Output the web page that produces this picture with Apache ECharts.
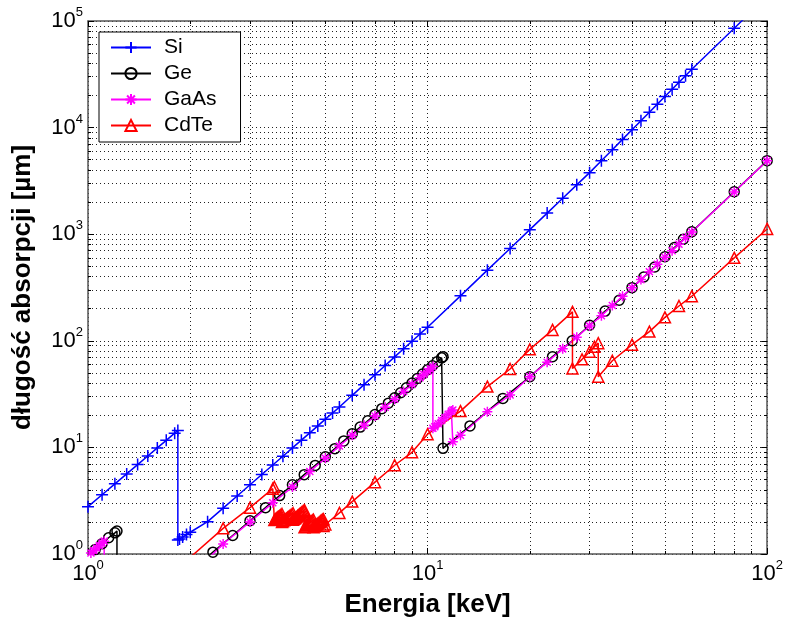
<!DOCTYPE html>
<html>
<head>
<meta charset="utf-8">
<title>długość absorpcji</title>
<script src="https://cdn.jsdelivr.net/npm/echarts@6/dist/echarts.min.js"></script>
<style>
  html, body { margin: 0; padding: 0; background: #fff; }
  #chart { width: 786px; height: 628px; }
</style>
</head>
<body>
<div id="chart"></div>
<script>
// energie [keV] i długości absorpcji [um]
const siE = [1.0, 1.1, 1.2, 1.3, 1.4, 1.5, 1.6, 1.7, 1.8, 1.839,
  1.839, 1.86, 1.9, 1.95, 2.0,
  2.25, 2.5, 2.75, 3.0, 3.25, 3.5, 3.75, 4.0, 4.25, 4.5, 4.75, 5.0, 5.25,
  5.5, 6.0, 6.5, 7.0, 7.5, 8.0, 8.5, 9.0, 9.5, 10,
  12.5, 15, 17.5, 20, 22.5, 25, 27.5, 30, 32.5, 35, 37.5, 40, 42.5, 45, 47.5, 50, 52.5, 55, 57.5, 60, 80, 100];
const siL = [2.78, 3.60, 4.55, 5.64, 6.90, 8.31, 9.89, 11.65, 13.6, 14.4,
  1.35, 1.38, 1.44, 1.52, 1.60,
  2.01, 2.69, 3.50, 4.46, 5.57, 6.84, 8.27, 9.89, 11.7, 13.7, 15.9, 18.4, 21.0,
  23.9, 30.8, 38.8, 48.1, 58.6, 70.6, 84.1, 99.1, 116, 134,
  264, 460, 734, 1103, 1577, 2172, 2903, 3780, 4892, 6210, 7753, 9545, 11600, 13950, 16600, 19580, 22910, 26610, 30710, 35220, 85600, 170000];

const geE = [1.0, 1.05, 1.1, 1.15, 1.2, 1.217,
  1.217, 1.333, 1.667, 2.0,
  2.333, 2.667, 3.0, 3.333, 3.667, 4.0, 4.333, 4.667, 5.0, 5.333, 5.667, 6.0, 6.333, 6.667, 7.0,
  7.333, 7.667, 8.0, 8.333, 8.667, 9.0, 9.333, 9.667, 10.0, 10.333, 10.667, 11.0, 11.103,
  11.103, 13.333, 16.667, 20, 23.333, 26.667, 30, 33.333, 36.667, 40, 43.333, 46.667, 50, 53.333, 56.667, 60, 80, 100];
const geL = [0.98, 1.1, 1.25, 1.42, 1.58, 1.64,
  0.3, 0.32, 0.46, 0.68,
  1.04, 1.49, 2.05, 2.72, 3.53, 4.46, 5.55, 6.78, 8.17, 9.73, 11.5, 13.4, 15.5, 17.8, 20.3,
  23.1, 26.0, 29.2, 32.6, 36.3, 40.2, 44.4, 48.8, 53.5, 58.4, 63.7, 69.2, 71.0,
  9.8, 15.9, 28.8, 46, 71, 100, 140, 190, 240, 315, 397, 492, 615, 750, 897, 1055, 2500, 4900];

const gaasE = [1.0, 1.02, 1.04, 1.06, 1.08, 1.1, 1.116,
  1.116, 1.5, 2.0,
  2.5, 3.0, 3.5, 4.0, 4.5, 5.0, 5.5, 6.0, 6.5, 7.0, 7.5, 8.0, 8.5, 9.0, 9.5, 9.75, 10.0, 10.2, 10.367,
  10.367, 10.5, 10.75, 11.0, 11.25, 11.5, 11.75, 11.867,
  11.867, 12.5, 15, 17.5, 20, 22.5, 25, 27.5, 30, 32.5, 35, 37.5, 40, 42.5, 45, 47.5, 50, 52.5, 55, 57.5, 60, 80, 100];
const gaasL = [0.96, 1.02, 1.08, 1.14, 1.2, 1.27, 1.32,
  0.35, 0.3, 0.62,
  1.24, 2.0, 3.02, 4.25, 5.95, 7.9, 10.3, 13.0, 16.1, 19.7, 23.8, 28.3, 33.4, 39.0, 45.1, 48.4, 51.9, 54.7, 57.5,
  15.1, 15.6, 16.7, 17.9, 19.1, 20.5, 21.9, 22.4,
  11.3, 13.0, 21.6, 31.0, 46, 63, 84, 108, 138, 172, 214, 262, 315, 375, 445, 522, 608, 700, 805, 925, 1050, 2490, 4880];

// CdTe: gęste punkty wokół krawędzi L (Cd L3, L2, L1, Te L3, L2, L1) oraz krawędzie K Cd i Te
const cdteE = [1.0, 1.5, 2.0, 2.5, 3.0, 3.5, 3.538,
  3.538, 3.56, 3.58, 3.6, 3.62, 3.64, 3.66, 3.68, 3.7, 3.727,
  3.727, 3.75, 3.78, 3.81, 3.84, 3.87, 3.9, 3.93, 3.96, 3.99, 4.018,
  4.018, 4.05, 4.08, 4.11, 4.14, 4.17, 4.2, 4.23, 4.26, 4.29, 4.32, 4.341,
  4.341, 4.37, 4.4, 4.43, 4.46, 4.49, 4.52, 4.55, 4.58, 4.612,
  4.612, 4.64, 4.67, 4.7, 4.73, 4.76, 4.79, 4.82, 4.85, 4.88, 4.91, 4.939,
  4.939, 5.0, 5.5, 6.0, 7.0, 8.0, 9.0, 10, 12.5, 15, 17.5, 20, 23.333, 26.711,
  26.711, 28.5, 30, 31, 31.814,
  31.814, 35, 40, 45, 50, 55, 60, 80, 100];
const cdteL = [0.17, 0.45, 0.93, 1.74, 2.72, 4.1, 4.25,
  2.08, 2.11, 2.14, 2.17, 2.20, 2.23, 2.26, 2.29, 2.32, 2.37,
  2.0, 2.03, 2.07, 2.11, 2.15, 2.19, 2.23, 2.27, 2.31, 2.36, 2.41,
  2.1, 2.14, 2.18, 2.22, 2.27, 2.31, 2.36, 2.40, 2.45, 2.49, 2.54, 2.58,
  1.78, 1.81, 1.85, 1.88, 1.92, 1.95, 1.99, 2.02, 2.06, 2.1,
  1.78, 1.81, 1.84, 1.87, 1.91, 1.94, 1.97, 2.0, 2.04, 2.07, 2.10, 2.12,
  1.83, 1.89, 2.43, 3.1, 4.72, 6.8, 9.0, 13.3, 21.9, 37.2, 54.4, 83.1, 126.5, 187,
  55, 67, 79, 88, 95,
  46, 65, 92, 122, 166, 212, 262, 600, 1120];

const names = ['Si', 'Ge', 'GaAs', 'CdTe'];
const colors = ['#0000ff', '#000000', '#ff00ff', '#ff0000'];

const FONT = "'Liberation Sans', Arial, Helvetica, sans-serif";

// znaczniki w stylu matlaba
const plusPath = 'path://M0,6L12,6M6,0L6,12';
const starPath = 'path://M0,6L12,6M6,0L6,12M1.8,1.8L10.2,10.2M1.8,10.2L10.2,1.8';

function pairs(xs, ys) {
  return xs.map(function (x, i) { return [x, ys[i]]; });
}

function decadeLabel(v) {
  const e = Math.round(Math.log10(v));
  return '{b|10}{s|' + e + '}';
}

const labelRich = {
  b: { fontSize: 22, fontFamily: FONT, color: '#000', lineHeight: 30 },
  s: { fontSize: 13, fontFamily: FONT, color: '#000', lineHeight: 14, verticalAlign: 'top' }
};

const gridLine = { show: true, lineStyle: { color: '#222', width: 1, type: [1, 3] } };

function mkSeries(name, data, color, symbol, size) {
  return {
    name: name,
    type: 'line',
    data: data,
    symbol: symbol,
    symbolSize: size,
    showSymbol: true,
    clip: true,
    lineStyle: { color: color, width: 1.5 },
    itemStyle: { color: 'rgba(0,0,0,0)', borderColor: color, borderWidth: 1.5 },
    emphasis: { disabled: true },
    animation: false
  };
}

const chart = echarts.init(document.getElementById('chart'), null, { renderer: 'canvas' });

const option = {
  backgroundColor: '#fff',
  animation: false,
  grid: { left: 88, right: 15, top: 21, bottom: 74, containLabel: false },
  legend: {
    orient: 'vertical',
    left: 99,
    top: 32,
    data: names,
    itemWidth: 40,
    itemHeight: 14,
    itemGap: 5,
    padding: [5, 24, 6, 11],
    backgroundColor: '#fff',
    borderColor: '#000',
    borderWidth: 1,
    borderRadius: 0,
    selectedMode: false,
    textStyle: { fontSize: 21, fontFamily: FONT, color: '#000', lineHeight: 20, padding: [0, 0, 0, 8] }
  },
  xAxis: [
    {
      type: 'log', logBase: 10, min: 1, max: 100,
      name: 'Energia [keV]', nameLocation: 'middle', nameGap: 38,
      nameTextStyle: { fontSize: 26, fontWeight: 'bold', fontFamily: FONT, color: '#000' },
      axisLine: { show: true, lineStyle: { color: '#555', width: 1.5 } },
      axisTick: { show: true, inside: true, length: 6, lineStyle: { color: '#000' } },
      minorTick: { show: true, splitNumber: 9, length: 3, lineStyle: { color: '#000' } },
      axisLabel: { formatter: decadeLabel, rich: labelRich, margin: 5 },
      splitLine: gridLine,
      minorSplitLine: gridLine
    },
    {
      type: 'log', logBase: 10, min: 1, max: 100, position: 'top',
      axisLine: { show: true, lineStyle: { color: '#555', width: 1.5 } },
      axisTick: { show: true, inside: true, length: 6, lineStyle: { color: '#000' } },
      minorTick: { show: true, splitNumber: 9, length: 3, lineStyle: { color: '#000' } },
      axisLabel: { show: false },
      splitLine: { show: false }
    }
  ],
  yAxis: [
    {
      type: 'log', logBase: 10, min: 1, max: 100000,
      name: 'długość absorpcji [µm]', nameLocation: 'middle', nameGap: 52,
      nameTextStyle: { fontSize: 26, fontWeight: 'bold', fontFamily: FONT, color: '#000' },
      axisLine: { show: true, lineStyle: { color: '#555', width: 1.5 } },
      axisTick: { show: true, inside: true, length: 6, lineStyle: { color: '#000' } },
      minorTick: { show: true, splitNumber: 9, length: 3, lineStyle: { color: '#000' } },
      axisLabel: { formatter: decadeLabel, rich: labelRich, margin: 5 },
      splitLine: gridLine,
      minorSplitLine: gridLine
    },
    {
      type: 'log', logBase: 10, min: 1, max: 100000, position: 'right',
      axisLine: { show: true, lineStyle: { color: '#555', width: 1.5 } },
      axisTick: { show: true, inside: true, length: 6, lineStyle: { color: '#000' } },
      minorTick: { show: true, splitNumber: 9, length: 3, lineStyle: { color: '#000' } },
      axisLabel: { show: false },
      splitLine: { show: false }
    }
  ],
  series: [
    mkSeries('Si', pairs(siE, siL), colors[0], plusPath, 12),
    mkSeries('Ge', pairs(geE, geL), colors[1], 'circle', 10),
    mkSeries('GaAs', pairs(gaasE, gaasL), colors[2], starPath, 10),
    mkSeries('CdTe', pairs(cdteE, cdteL), colors[3], 'triangle', 11)
  ]
};

chart.setOption(option);
</script>
</body>
</html>
